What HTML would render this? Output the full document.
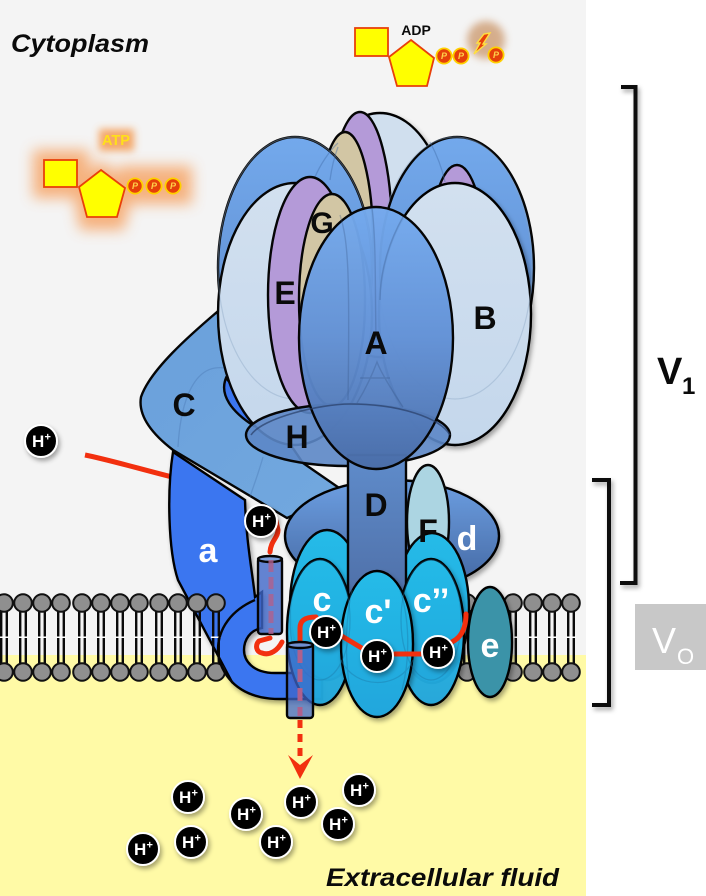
<!DOCTYPE html>
<html><head><meta charset="utf-8"><style>
html,body{margin:0;padding:0;background:#fff}
svg{display:block}
text{font-family:"Liberation Sans",sans-serif;font-weight:bold}
.l{font-size:32px;fill:#0a0a0a;text-anchor:middle}
.w{font-size:34px;fill:#fff;text-anchor:middle}
.o{stroke:#050505;stroke-width:2.4}
</style></head><body>
<svg width="706" height="896" viewBox="0 0 706 896" xmlns="http://www.w3.org/2000/svg">
<defs>
<linearGradient id="ba" x1="0" y1="0" x2="0" y2="1"><stop offset="0" stop-color="#74aaee"/><stop offset=".5" stop-color="#6291d6"/><stop offset="1" stop-color="#4a6da8"/></linearGradient>
<linearGradient id="bb" x1="0" y1="0" x2="0" y2="1"><stop offset="0" stop-color="#73a9ec"/><stop offset="1" stop-color="#5a86c8"/></linearGradient>
<linearGradient id="lb" x1="0" y1="0" x2="0" y2="1"><stop offset="0" stop-color="#d2e0ef"/><stop offset="1" stop-color="#c4d7ec"/></linearGradient>
<linearGradient id="cg" x1="0" y1="0" x2="1" y2="1"><stop offset="0" stop-color="#6aa0dc"/><stop offset="1" stop-color="#72a8de"/></linearGradient>
<linearGradient id="dg" x1="0" y1="0" x2="0" y2="1"><stop offset="0" stop-color="#6d9fe2"/><stop offset="1" stop-color="#42659f"/></linearGradient>
<linearGradient id="dd" x1="0" y1="0" x2="0" y2="1"><stop offset="0" stop-color="#5f8ccb"/><stop offset="1" stop-color="#4e6ea6"/></linearGradient>
<linearGradient id="cc" x1="0" y1="0" x2="0" y2="1"><stop offset="0" stop-color="#25bbe8"/><stop offset="1" stop-color="#22a6dc"/></linearGradient>
<filter id="gl" x="-60%" y="-60%" width="220%" height="220%"><feGaussianBlur stdDeviation="7"/></filter>
<filter id="gs" x="-60%" y="-60%" width="220%" height="220%"><feGaussianBlur stdDeviation="4"/></filter>
<filter id="sh" x="-30%" y="-30%" width="170%" height="170%"><feDropShadow dx="2" dy="3" stdDeviation="2.5" flood-color="#000" flood-opacity=".35"/></filter>
<g id="lp">
<path d="M-2.800,0V69M2.800,0V69" stroke="#0a0a0a" stroke-width="2.400" fill="none"/>
<rect x="-5" y="33.500" width="10" height="1.500" fill="#fff"/>
<circle cx="0" cy="0" r="8.800" fill="#8f8f8f" stroke="#111" stroke-width="2"/>
<circle cx="0" cy="69" r="8.800" fill="#8f8f8f" stroke="#111" stroke-width="2"/>
</g>
<g id="hp">
<circle r="16" fill="#050505" stroke="#fff" stroke-width="2" filter="url(#sh)"/>
<text x="-9" y="6" font-size="17" style="fill:#fff">H</text>
<text x="3.500" y="-0.500" font-size="11" style="fill:#fff">+</text>
</g>
<g id="pp">
<circle r="7.600" fill="#e5400a" stroke="#ffd000" stroke-width="1.800"/>
<text x="0" y="3.200" font-size="9" font-style="italic" text-anchor="middle" style="fill:#ffd24a">P</text>
</g>
</defs>

<rect width="706" height="896" fill="#fff"/>
<rect x="0" y="0" width="586" height="656" fill="#f4f4f4"/>
<rect x="0" y="655" width="586" height="241" fill="#fffaa6"/>

<!-- right lipids -->
<use href="#lp" x="467" y="603"/><use href="#lp" x="513" y="603"/><use href="#lp" x="533" y="603"/><use href="#lp" x="552" y="603"/><use href="#lp" x="571" y="603"/>

<!-- ATP -->
<g filter="url(#gl)" fill="#f6a160" opacity=".8">
<rect x="33" y="150" width="56" height="48"/>
<polygon points="101,160 134,188 124,230 80,230 72,188"/>
<rect x="118" y="166" width="74" height="38"/>
</g>
<rect x="99" y="129" width="35" height="22" fill="#f49a50" opacity=".85" filter="url(#gs)"/>
<text x="116" y="145" font-size="14.500" text-anchor="middle" style="fill:#ffe01a">ATP</text>
<rect x="44" y="160" width="33" height="27" fill="#ffff00" stroke="#e8400a" stroke-width="1.800"/>
<polygon points="101,170 125,188 117,217 87,217 79,187" fill="#ffff00" stroke="#e8400a" stroke-width="1.800"/>
<use href="#pp" x="135" y="186"/><use href="#pp" x="154" y="186"/><use href="#pp" x="173" y="186"/>

<!-- ADP -->
<circle cx="486" cy="40" r="19" fill="#c89060" opacity=".7" filter="url(#gs)"/>
<rect x="355" y="28" width="33" height="28" fill="#ffff00" stroke="#e8400a" stroke-width="1.800"/>
<polygon points="411,40 434,58 427,86 397,86 389,57" fill="#ffff00" stroke="#e8400a" stroke-width="1.800"/>
<text x="416" y="35" font-size="14" text-anchor="middle" fill="#0a0a0a">ADP</text>
<use href="#pp" x="444" y="56"/><use href="#pp" x="461" y="56"/><use href="#pp" x="496" y="55"/>
<polygon points="490,33 483,44 486,44 474,54 480,43 477,43 484,34" fill="#e8400a" stroke="#ffe040" stroke-width="1.400"/>

<!-- back of V1 -->
<ellipse cx="380" cy="235" rx="70" ry="122" fill="#d0dfee" class="o" filter="url(#sh)"/>
<ellipse cx="360" cy="235" rx="32" ry="123" fill="#b49ad8" class="o"/>
<ellipse cx="345" cy="242" rx="28" ry="110" fill="#d2c6a4" class="o"/>
<ellipse cx="295" cy="268" rx="77" ry="131" fill="url(#bb)" class="o"/>
<ellipse cx="457" cy="268" rx="77" ry="131" fill="url(#bb)" class="o"/>
<ellipse cx="457" cy="260" rx="28" ry="95" fill="#b49ad8" class="o"/>
<path d="M315,177C320,165 330,150 338,143M330,180C332,165 335,155 338,147M430,142C437,155 442,168 445,182" fill="none" stroke="#3e6aa5" stroke-opacity=".4" stroke-width="1.300"/>

<!-- red entry line -->
<path d="M85,455C110,460 140,469 176,478" stroke="#f2300f" stroke-width="5" fill="none"/>

<!-- subunit a -->
<path d="M173,452C167,490 168,550 178,580L232,682C245,695 262,699 280,699L322,699V673H275C252,673 244,660 244,650C244,640 250,630 262,628V592L255,597C252,570 246,540 245,500Z" fill="#3b76f0" class="o" filter="url(#sh)"/>

<!-- left lipids over a -->
<use href="#lp" x="4" y="603"/><use href="#lp" x="23" y="603"/><use href="#lp" x="42" y="603"/><use href="#lp" x="61" y="603"/>
<use href="#lp" x="82" y="603"/><use href="#lp" x="101" y="603"/><use href="#lp" x="120" y="603"/><use href="#lp" x="139" y="603"/>
<use href="#lp" x="159" y="603"/><use href="#lp" x="178" y="603"/><use href="#lp" x="197" y="603"/><use href="#lp" x="216" y="603"/>
<path d="M255,600C232,610 218,628 218,650C218,662 224,674 233,683" fill="none" class="o"/>

<!-- C -->
<path d="M217,312C190,335 150,370 141,397C137,420 160,440 173,450L287,518L345,492L303,463L260,400Z" fill="url(#cg)" class="o"/>
<path d="M178,447C180,410 190,372 215,368C228,366 240,372 250,385M263,457C258,475 252,490 250,497" fill="none" stroke="#3e6aa5" stroke-opacity=".3" stroke-width="1.300"/>
<path d="M226,378C219,395 232,412 254,426L262,420Z" fill="#3b76f0" class="o"/>

<!-- front B -->
<ellipse cx="455" cy="314" rx="76" ry="131" fill="url(#lb)" class="o" filter="url(#sh)"/>
<ellipse cx="295" cy="314" rx="77" ry="131" fill="url(#lb)" class="o"/>
<g fill="none" stroke="#8aa4c4" stroke-opacity=".4" stroke-width="1.200">
<ellipse cx="455" cy="268" rx="77" ry="131"/>
<ellipse cx="295" cy="268" rx="77" ry="131"/>
</g>

<!-- E, G -->
<ellipse cx="310" cy="295" rx="42" ry="118" fill="#b49ad8" class="o"/>
<ellipse cx="332" cy="300" rx="33" ry="106" fill="#d2c6a4" class="o"/>

<!-- H -->
<ellipse cx="348" cy="435" rx="102" ry="31" fill="#5c87c6" fill-opacity=".9" class="o"/>

<!-- d, F -->
<ellipse cx="392" cy="536" rx="107" ry="56" fill="url(#dg)" class="o" filter="url(#sh)"/>
<ellipse cx="428" cy="522" rx="21" ry="57" fill="#acd5e2" class="o"/>

<!-- c back row -->
<ellipse cx="327" cy="605" rx="37" ry="75" fill="url(#cc)" class="o"/>
<ellipse cx="432" cy="608" rx="37" ry="75" fill="url(#cc)" class="o"/>

<!-- D -->
<rect x="348" y="455" width="58" height="150" fill="url(#dd)" class="o"/>

<!-- A front -->
<ellipse cx="376" cy="338" rx="77" ry="131" fill="url(#ba)" fill-opacity=".97" class="o"/>
<path d="M251,435C262,418 320,404 350,404C400,404 440,418 450,435" fill="none" stroke="#2a3f66" stroke-opacity=".7" stroke-width="1.600"/>
<g fill="none" stroke="#32507f" stroke-opacity=".28" stroke-width="1.400">
<path d="M340,215C348,240 350,270 348,400M403,217C390,240 380,270 380,300M372,208C376,240 375,280 376,340M357,403C368,385 374,370 377,362C382,375 395,395 403,407M360,378H390"/>
</g>

<!-- tube 1 -->
<rect x="258" y="558" width="24" height="76" rx="3" fill="#3f66c8" fill-opacity=".8" class="o"/>
<ellipse cx="270" cy="559" rx="12" ry="3" fill="#7fa0dc" class="o"/>

<!-- c front row -->
<ellipse cx="320" cy="632" rx="33" ry="73" fill="url(#cc)" fill-opacity=".96" class="o" filter="url(#sh)"/>
<ellipse cx="431" cy="632" rx="33" ry="73" fill="url(#cc)" fill-opacity=".96" class="o" filter="url(#sh)"/>
<ellipse cx="377" cy="644" rx="36" ry="73" fill="url(#cc)" class="o" filter="url(#sh)"/>
<ellipse cx="490" cy="642" rx="22" ry="55" fill="#3a93a8" class="o" filter="url(#sh)"/>
<g fill="none" stroke="#1a6f9e" stroke-opacity=".35" stroke-width="1.300">
<ellipse cx="320" cy="620" rx="30" ry="60"/><ellipse cx="431" cy="620" rx="30" ry="60"/>
<path d="M341,660C355,690 400,690 413,660M352,590C345,620 345,660 350,690M400,590C410,620 410,660 402,690"/>
</g>

<!-- red path -->
<g fill="none" stroke="#f2300f" stroke-width="5" stroke-linejoin="round" stroke-linecap="round">
<path d="M276,521L278,530C278,538 271,540 270,552"/>
<path d="M270,638L259,641C255,645 256,652 262,653C270,656 278,650 282,642"/>
<path d="M300,642V628C300,620 306,617 316,617"/>
<path d="M340,635L365,650M395,654H425M452,642C460,638 466,630 466,614"/>
</g>

<!-- dashed tube 1 -->
<path d="M271,560V634" stroke="#b0608c" stroke-opacity=".8" stroke-width="5" stroke-dasharray="12 5" fill="none"/>
<!-- tube 2 -->
<rect x="287" y="644" width="26" height="74" rx="3" fill="#3f66c8" fill-opacity=".75" class="o"/>
<ellipse cx="300" cy="645" rx="13" ry="3" fill="#6f8fd0" class="o"/>
<path d="M300,650V716" stroke="#b0608c" stroke-width="5" stroke-dasharray="13 6" fill="none"/>
<path d="M300,720V757" stroke="#f2300f" stroke-width="5" stroke-dasharray="8 6" fill="none"/>
<polygon points="288,755 300,765 313,755 300,779" fill="#f2300f"/>

<!-- H+ -->
<use href="#hp" x="41" y="441"/><use href="#hp" x="261" y="521"/><use href="#hp" x="326" y="632"/><use href="#hp" x="377" y="656"/><use href="#hp" x="438" y="652"/>
<use href="#hp" x="188" y="797"/><use href="#hp" x="191" y="842"/><use href="#hp" x="143" y="849"/><use href="#hp" x="246" y="814"/><use href="#hp" x="276" y="842"/><use href="#hp" x="301" y="802"/><use href="#hp" x="338" y="824"/><use href="#hp" x="359" y="790"/>

<!-- labels -->
<text class="l" x="322" y="233" style="font-size:30px">G</text>
<text class="l" x="285" y="304">E</text>
<text class="l" x="376" y="354">A</text>
<text class="l" x="485" y="329">B</text>
<text class="l" x="184" y="416">C</text>
<text class="l" x="297" y="448">H</text>
<text class="l" x="376" y="516">D</text>
<text class="l" x="428" y="542">F</text>
<text class="w" x="467" y="550">d</text>
<text class="w" x="208" y="562">a</text>
<text class="w" x="322" y="611">c</text>
<text class="w" x="378" y="623">c'</text>
<text class="w" x="431" y="612">c’’</text>
<text class="w" x="490" y="657">e</text>

<text x="11" y="52" font-size="25" font-style="italic" fill="#0a0a0a" textLength="138" lengthAdjust="spacingAndGlyphs">Cytoplasm</text>
<text x="326" y="886" font-size="25" font-style="italic" fill="#0a0a0a" textLength="233" lengthAdjust="spacingAndGlyphs">Extracellular fluid</text>

<!-- brackets -->
<g fill="none" stroke="#0a0a0a" stroke-width="4" filter="url(#sh)">
<path d="M621,87H635.500V583H620"/>
<path d="M592,480H609V705H592"/>
</g>
<text x="657" y="384" font-size="38" fill="#0a0a0a">V</text>
<text x="682" y="394" font-size="24" fill="#0a0a0a">1</text>
<rect x="635" y="604" width="71" height="66" fill="#c8c8c8"/>
<text x="652" y="653" font-size="36" style="fill:#fff;font-weight:normal">V</text>
<text x="677" y="664" font-size="22" style="fill:#fff;font-weight:normal">O</text>
</svg>
</body></html>
